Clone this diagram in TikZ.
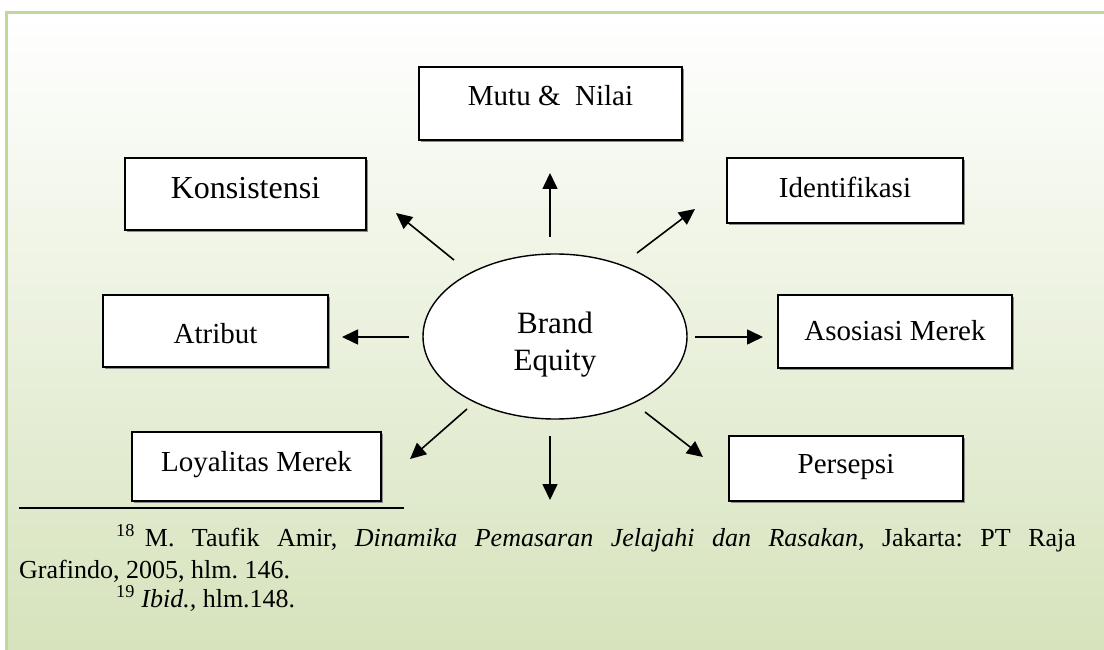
\documentclass[tikz,border=0pt]{standalone}
\usepackage{fontspec}
\setmainfont{Liberation Serif}
\usetikzlibrary{arrows.meta,shapes.geometric,shadows}
\definecolor{framegreen}{HTML}{C3D69B}
\definecolor{bgbottom}{HTML}{D6E3BC}
\frenchspacing
\begin{document}
\begin{tikzpicture}[x=1pt,y=-1pt,
  box/.style={draw=black, line width=1.3pt, fill=white, rectangle, inner sep=0pt,
    font=\fontsize{29}{35}\selectfont,
    drop shadow={shadow xshift=2pt, shadow yshift=-2pt, fill=black!45, opacity=1}},
  arr/.style={line width=1.6pt, -{Triangle[length=16pt,width=15pt]}},
  note/.style={anchor=base west, inner sep=0pt, font=\fontsize{26}{30}\selectfont}
]
\useasboundingbox (0,0) rectangle (1104,650);
\fill[white] (0,0) rectangle (1104,650);
\shade[top color=white, bottom color=bgbottom] (6,13) rectangle (1110,650);
\draw[framegreen, line width=3pt] (1110,13) -- (6,13) -- (6,660);

% central ellipse
\node[ellipse, draw=black, line width=1.4pt, fill=white, inner sep=0pt,
      minimum width=264pt, minimum height=165pt, text width=120pt, align=center,
      text height=46.5pt, text depth=53.5pt,
      font=\fontsize{31}{37}\selectfont] (be) at (555,336.5) {Brand\\Equity};

% boxes
\node[box, minimum width=263pt, text height=39pt, text depth=34pt] (mutu) at (550.5,103.5) {Mutu \& \ Nilai};
\node[box, minimum width=241pt, text height=41pt, text depth=31pt, font=\fontsize{32}{38}\selectfont] (kons) at (245.5,194) {Konsistensi};
\node[box, minimum width=236pt, text height=39pt, text depth=26pt] (ident) at (845,190.5) {Identifikasi};
\node[box, minimum width=225pt, text height=48pt, text depth=24pt] (atrib) at (215.5,331) {Atribut};
\node[box, minimum width=234pt, text height=45pt, text depth=28pt] (asos) at (895,331.5) {Asosiasi Merek};
\node[box, minimum width=249pt, text height=39pt, text depth=30pt] (loyal) at (256.5,466.5) {Loyalitas Merek};
\node[box, minimum width=234pt, text height=37pt, text depth=28pt] (pers) at (846,468.5) {Persepsi};

% arrow ends
\coordinate (s1) at (550,237); \coordinate (e1) at (550,173);
\coordinate (s2) at (454,260); \coordinate (e2) at (396,213);
\coordinate (s3) at (637,253); \coordinate (e3) at (695,209);
\coordinate (s4) at (409,337); \coordinate (e4) at (342,337);
\coordinate (s5) at (695,337); \coordinate (e5) at (763,337);
\coordinate (s6) at (467,409); \coordinate (e6) at (410,459);
\coordinate (s7) at (550,436); \coordinate (e7) at (550,500);
\coordinate (s8) at (645,412); \coordinate (e8) at (703,457);
\foreach \i in {1,...,8} {\draw[arr] (s\i) -- (e\i);}

% footnotes
\coordinate (r1) at (19,508); \coordinate (r2) at (404,508);
\draw[line width=1.5pt] (r1) -- (r2);
\node[note] (fn18) at (116,546) {\textsuperscript{18}\hspace{10pt}\makebox[931pt][s]{M. Taufik Amir, \textit{Dinamika Pemasaran Jelajahi dan Rasakan}, Jakarta: PT Raja}};
\node[note] (fn18b) at (19,578) {Grafindo, 2005, hlm. 146.};
\node[note] (fn19) at (116,607) {\textsuperscript{19} \textit{Ibid.,} hlm.148.};
\end{tikzpicture}
\end{document}
